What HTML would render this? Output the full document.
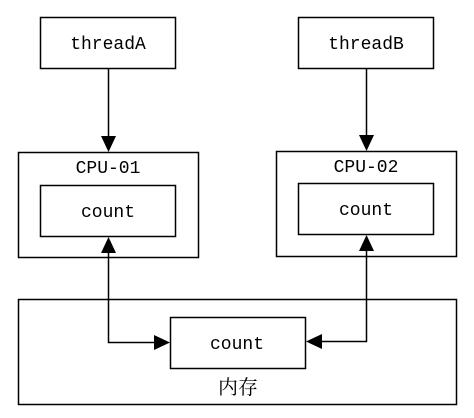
<!DOCTYPE html>
<html><head><meta charset="utf-8"><style>
html,body{margin:0;padding:0;background:#fff;}
svg{display:block}
text{font-family:"Liberation Mono","Noto Serif CJK SC",monospace;font-size:18px;fill:#000;}
</style></head><body>
<svg width="474" height="418" viewBox="0 0 474 418">
<rect width="474" height="418" fill="#fff"/>
<g fill="none" stroke="#000" stroke-width="1.5">
<rect x="40.5" y="17.5" width="135" height="51"/>
<rect x="298.5" y="17.5" width="135" height="51"/>
<rect x="18.5" y="152.5" width="180" height="105"/>
<rect x="40.5" y="185.5" width="135" height="51"/>
<rect x="276.5" y="151.5" width="180" height="105"/>
<rect x="298.5" y="183.5" width="135" height="51"/>
<rect x="18.5" y="299.5" width="438" height="105"/>
<rect x="170.5" y="317.5" width="135" height="51"/>
<path d="M108.5 68 V138"/>
<path d="M366.5 68 V137"/>
<path d="M108.5 252 V342.5 H156"/>
<path d="M366.5 250 V341.5 H320"/>
</g>
<g fill="#000">
<polygon points="101,136 116,136 108.5,152"/>
<polygon points="359,135 374,135 366.5,151"/>
<polygon points="101,253 116,253 108.5,237"/>
<polygon points="359,251 374,251 366.5,235"/>
<polygon points="154,335 154,350 170,342.5"/>
<polygon points="322,334 322,349 306,341.5"/>
</g>
<g text-anchor="middle">
<text x="108" y="49">threadA</text>
<text x="366" y="49">threadB</text>
<text x="108" y="173">CPU-01</text>
<text x="366" y="172">CPU-02</text>
<text x="108" y="217">count</text>
<text x="366" y="215">count</text>
<text x="237" y="349">count</text>
<text x="238" y="394" style="font-family:'Noto Serif CJK SC','Noto Sans CJK SC',serif;font-size:20px">内存</text>
</g>
</svg>
</body></html>
